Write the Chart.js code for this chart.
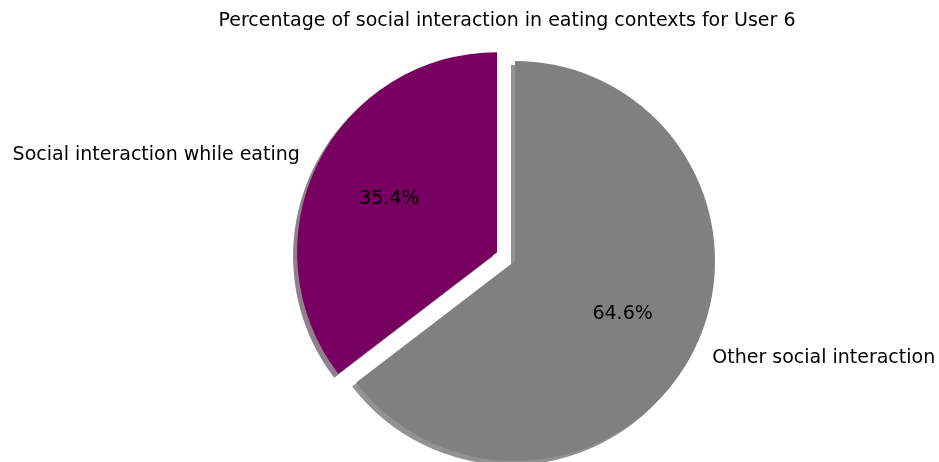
<!DOCTYPE html>
<html>
<head>
<meta charset="utf-8">
<script src="https://cdn.jsdelivr.net/npm/chart.js@4.4.1/dist/chart.umd.min.js"></script>
<style>
  html, body { margin: 0; padding: 0; background: #ffffff; }
  #wrap { width: 939px; height: 462px; font-family: "DejaVu Sans"; }
</style>
</head>
<body>
<div id="wrap"><canvas id="pieChart" width="939" height="462"></canvas></div>
<script>
// Chart data (drawn clockwise from the top, so "other" comes first)
const titleText = 'Percentage of social interaction in eating contexts for User 6';
const sliceLabels = ['Other social interaction', 'Social interaction while eating'];
const sliceValues = [64.6, 35.4];
const sliceColors = ['#808080', '#770060'];
const sliceExplode = [0, 0.1]; // fraction of the radius, like matplotlib

const FONT = '19px "DejaVu Sans", "Noto Sans", sans-serif';

// darker copy of a colour, like matplotlib's pie shadow
function shadowColor(hex) {
    const h = hex.replace('#', '');
    const r = Math.round(parseInt(h.substr(0, 2), 16) * 0.3);
    const g = Math.round(parseInt(h.substr(2, 2), 16) * 0.3);
    const b = Math.round(parseInt(h.substr(4, 2), 16) * 0.3);
    return 'rgba(' + r + ',' + g + ',' + b + ',0.5)';
}

const pieExtras = {
    id: 'pieExtras',
    // push the exploded slices out along their middle angle
    afterDatasetsUpdate(chart) {
        const meta = chart.getDatasetMeta(0);
        meta.data.forEach((arc, i) => {
            const mid = (arc.startAngle + arc.endAngle) / 2;
            const d = sliceExplode[i] * arc.outerRadius;
            arc.x += Math.cos(mid) * d;
            arc.y += Math.sin(mid) * d;
        });
    },
    beforeDatasetsDraw(chart) {
        const ctx = chart.ctx;
        const meta = chart.getDatasetMeta(0);
        ctx.save();
        meta.data.forEach((arc, i) => {
            const sx = arc.x - 4;
            const sy = arc.y + 4;
            ctx.beginPath();
            ctx.moveTo(sx, sy);
            ctx.arc(sx, sy, arc.outerRadius, arc.startAngle, arc.endAngle);
            ctx.closePath();
            ctx.fillStyle = shadowColor(sliceColors[i]);
            ctx.fill();
        });
        ctx.restore();
    },
    afterDraw(chart) {
        const ctx = chart.ctx;
        const meta = chart.getDatasetMeta(0);
        ctx.save();
        ctx.font = FONT;
        ctx.fillStyle = '#000000';

        // title
        ctx.textAlign = 'center';
        ctx.textBaseline = 'middle';
        ctx.fillText(titleText, 507, 21);

        meta.data.forEach((arc, i) => {
            const mid = (arc.startAngle + arc.endAngle) / 2;
            const r = arc.outerRadius;
            // percentage inside the slice
            ctx.textAlign = 'center';
            ctx.fillText(sliceValues[i].toFixed(1) + '%',
                arc.x + Math.cos(mid) * r * 0.6, arc.y + Math.sin(mid) * r * 0.6);
            // category label outside
            ctx.textAlign = Math.cos(mid) > 0 ? 'left' : 'right';
            ctx.fillText(sliceLabels[i],
                arc.x + Math.cos(mid) * r * 1.1, arc.y + Math.sin(mid) * r * 1.1);
        });
        ctx.restore();
    }
};

function initializePieChart() {
    const ctx = document.getElementById('pieChart').getContext('2d');
    new Chart(ctx, {
        type: 'pie',
        data: {
            labels: sliceLabels,
            datasets: [{
                data: sliceValues,
                backgroundColor: sliceColors,
                borderWidth: 0
            }]
        },
        options: {
            responsive: false,
            animation: false,
            radius: 200,
            rotation: 0,
            layout: {
                padding: { left: 91, right: 0, top: 60, bottom: 0 }
            },
            plugins: {
                legend: { display: false },
                title: { display: false },
                tooltip: { enabled: false }
            }
        },
        plugins: [pieExtras]
    });
}

document.fonts.load(FONT).then(initializePieChart, initializePieChart);
</script>
</body>
</html>
